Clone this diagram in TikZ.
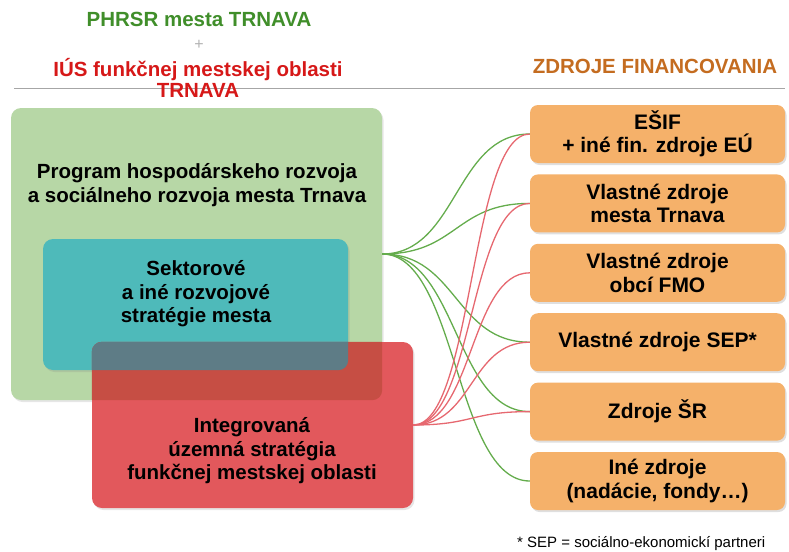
\documentclass[tikz,border=0pt]{standalone}
\usepackage{fontspec}
\setmainfont{Liberation Sans}
\usepackage{xcolor}
\usepackage{tikz}
\usetikzlibrary{arrows.meta, positioning, calc, shadows}

\definecolor{phrgreen}{RGB}{183,215,166}
\definecolor{sekteal}{RGB}{78,186,186}
\definecolor{iusred}{RGB}{226,88,92}
\definecolor{ovred}{RGB}{198,78,68}
\definecolor{ovslate}{RGB}{94,124,134}
\definecolor{zdrorange}{RGB}{245,177,106}
\definecolor{glink}{RGB}{100,172,76}
\definecolor{rlink}{RGB}{230,104,112}
\definecolor{titgreen}{RGB}{64,142,42}
\definecolor{titred}{RGB}{214,24,24}
\definecolor{titorange}{RGB}{196,108,32}

\begin{document}
\begin{tikzpicture}[x=1pt, y=-1pt,
    bigbox/.style={rounded corners=10pt, inner sep=0pt,
                   drop shadow={opacity=0.2, shadow xshift=1.5pt, shadow yshift=-2pt}},
    zdroj/.style={rounded corners=8pt, fill=zdrorange, minimum width=255pt, minimum height=58pt,
                  align=center, inner sep=0pt, font=\fontsize{21}{23.5}\selectfont\bfseries,
                  drop shadow={opacity=0.25, shadow xshift=1.5pt, shadow yshift=-2pt}},
    boxtext/.style={align=center, inner sep=0pt, font=\fontsize{20.5}{23.5}\selectfont\bfseries},
    title/.style={align=center, inner sep=0pt, font=\fontsize{20.5}{21}\selectfont\bfseries},
    glinka/.style={glink, line width=1.3pt},
    rlinka/.style={rlink, line width=1.3pt},
]
\useasboundingbox (0,0) rectangle (789,551);

% --- Headings ---
\node[title, titgreen, anchor=base] (phrsr) at (199,27) {PHRSR mesta TRNAVA};
\node[font=\fontsize{16}{16}\selectfont, gray!60, anchor=base, inner sep=0pt] (plus) at (199,50) {+};
\draw[gray!70, line width=0.8pt] (14,88) -- (785,88);
\node[title, titred] (iusfmo) at (198,78) {IÚS funkčnej mestskej oblasti\\TRNAVA};
\node[title, titorange, anchor=base] (zfin) at (655,74) {ZDROJE FINANCOVANIA};

% --- Strategy boxes ---
\node[bigbox, fill=phrgreen, minimum width=371pt, minimum height=292pt] (phr) at (196.5,254) {};
\node[bigbox, fill=sekteal, minimum width=305pt, minimum height=131pt] (sek) at (195.5,304.5) {};
\node[bigbox, fill=iusred, minimum width=321pt, minimum height=166pt] (ius) at (252.5,425) {};

% overlaps of the red box with the green and teal boxes
\begin{scope}
  \clip[rounded corners=10pt] (ius.north west) rectangle (ius.south east);
  \fill[ovred, rounded corners=10pt] (phr.north west) rectangle (phr.south east);
  \fill[ovslate, rounded corners=10pt] (sek.north west) rectangle (sek.south east);
\end{scope}

\node[boxtext] (phrtext) at (197,185) {Program hospodárskeho rozvoja\\a sociálneho rozvoja mesta Trnava};
\node[boxtext] (sektext) at (196,294) {Sektorové\\a iné rozvojové\\stratégie mesta};
\node[boxtext] (iustext) at (252,451) {Integrovaná\\územná stratégia\\funkčnej mestskej oblasti};

% --- Funding sources ---
\node[zdroj] (esif)   at (657.5,134)   {EŠIF\\+ iné fin. zdroje EÚ};
\node[zdroj] (mesto)  at (657.5,203.4) {Vlastné zdroje\\mesta Trnava};
\node[zdroj] (obce)   at (657.5,272.8) {Vlastné zdroje\\obcí FMO};
\node[zdroj] (sep)    at (657.5,342.2) {Vlastné zdroje SEP*};
\node[zdroj] (statne) at (657.5,411.6) {Zdroje ŠR};
\node[zdroj] (ine)    at (657.5,481)   {Iné zdroje\\(nadácie, fondy…)};

% ===================== LINKS =====================

% PHRSR -> sources (green)
\draw[glinka] (phr.east) .. controls +(75,0) and +(-75,0) .. (esif.west);
\draw[glinka] (phr.east) .. controls +(75,0) and +(-75,0) .. (mesto.west);
\draw[glinka] (phr.east) .. controls +(75,0) and +(-75,0) .. (sep.west);
\draw[glinka] (phr.east) .. controls +(75,0) and +(-75,0) .. (statne.west);
\draw[glinka] (phr.east) .. controls +(75,0) and +(-75,0) .. (ine.west);

% IUS -> sources (red)
\draw[rlinka] (ius.east) .. controls +(60,0) and +(-60,0) .. (esif.west);
\draw[rlinka] (ius.east) .. controls +(60,0) and +(-60,0) .. (mesto.west);
\draw[rlinka] (ius.east) .. controls +(60,0) and +(-60,0) .. (obce.west);
\draw[rlinka] (ius.east) .. controls +(60,0) and +(-60,0) .. (sep.west);
\draw[rlinka] (ius.east) .. controls +(60,0) and +(-60,0) .. (statne.west);

% --- Footnote ---
\node[font=\fontsize{15}{18}\selectfont, anchor=base west, inner sep=0pt] (sepnote) at (517,547)
  {* SEP = sociálno-ekonomickí partneri};

\end{tikzpicture}
\end{document}
